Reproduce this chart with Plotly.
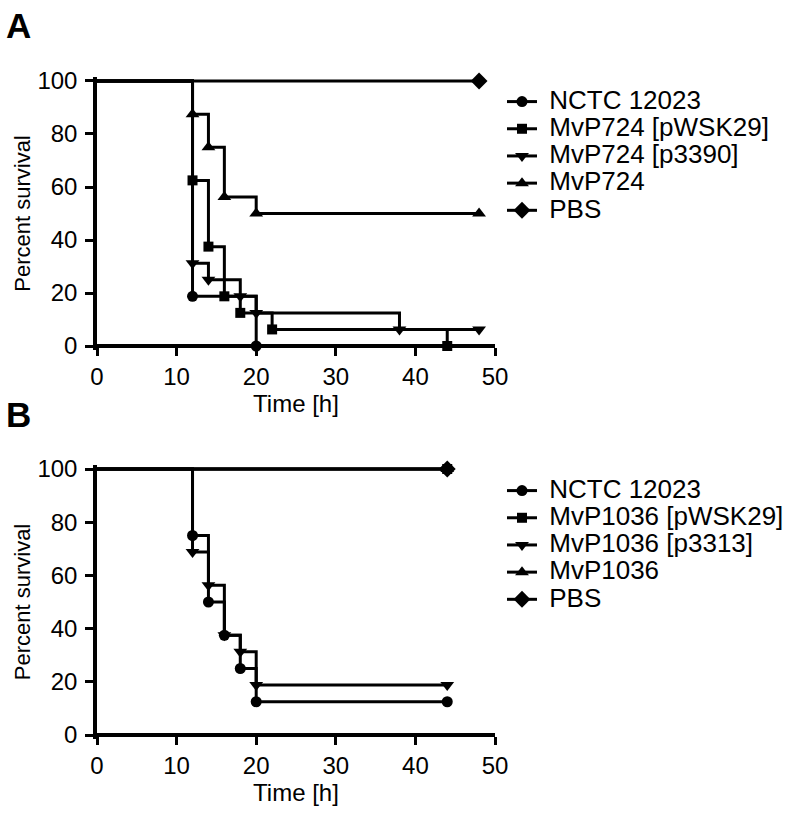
import plotly.graph_objects as go

# Panel A - survival data (time in h, percent survival)
names_a = ["NCTC 12023", "MvP724 [pWSK29]", "MvP724 [p3390]", "MvP724", "PBS"]
time_a = [
    [0, 12, 20],
    [0, 12, 14, 16, 18, 22, 44],
    [0, 12, 14, 18, 20, 38, 48],
    [0, 12, 14, 16, 20, 48],
    [0, 48],
]
surv_a = [
    [100, 18.75, 0],
    [100, 62.5, 37.5, 18.75, 12.5, 6.25, 0],
    [100, 31.25, 25, 18.75, 12.5, 6.25, 6.25],
    [100, 87.5, 75, 56.25, 50, 50],
    [100, 100],
]

# Panel B
names_b = ["NCTC 12023", "MvP1036 [pWSK29]", "MvP1036 [p3313]", "MvP1036", "PBS"]
time_b = [
    [0, 12, 14, 16, 18, 20, 44],
    [0, 44],
    [0, 12, 14, 16, 18, 20, 44],
    [0, 44],
    [0, 44],
]
surv_b = [
    [100, 75, 50, 37.5, 25, 12.5, 12.5],
    [100, 100],
    [100, 68.75, 56.25, 37.5, 31.25, 18.75, 18.75],
    [100, 100],
    [100, 100],
]

symbols = ["circle", "square", "triangle-down", "triangle-up", "diamond"]
sizes = [11, 10, 12, 12, 13]

x_ticks = [0, 10, 20, 30, 40, 50]
y_ticks = [0, 20, 40, 60, 80, 100]

FONT = "Arial, Liberation Sans, sans-serif"
W, H = 798, 813
PAD = 1.5  # a little extra y range so the lines at 100 are not cut in half

fig = go.Figure()


def add_panel(names, times, survs, xa, ya, legend):
    for i, name in enumerate(names):
        t, s = times[i], survs[i]
        # first segment from t=0 without a marker
        fig.add_trace(go.Scatter(
            x=t[:2], y=s[:2], mode="lines", line=dict(color="black", width=3, shape="hv"),
            xaxis=xa, yaxis=ya, showlegend=False, cliponaxis=False, hoverinfo="skip",
        ))
        fig.add_trace(go.Scatter(
            x=t[1:], y=s[1:], mode="lines+markers",
            line=dict(color="black", width=3, shape="hv"),
            marker=dict(symbol=symbols[i], size=sizes[i], color="black"),
            name='<span style="font-size:26px">\u00a0' + name + "</span>",
            xaxis=xa, yaxis=ya, legend=legend, cliponaxis=False,
        ))


add_panel(names_a, time_a, surv_a, "x", "y", "legend")
add_panel(names_b, time_b, surv_b, "x2", "y2", "legend2")


def ydomain(px0, px100):
    unit = (px0 - px100) / 100
    return [1 - (px0 + PAD * unit) / H, 1 - (px100 - PAD * unit) / H]


axis_style = dict(
    showline=True, linewidth=3.5, linecolor="black", ticks="outside", ticklen=8,
    tickwidth=3, tickcolor="black", showgrid=False, zeroline=False,
    tickfont=dict(family=FONT, size=24, color="black"), automargin=False,
)
xtitle = dict(text="Time [h]", font=dict(family=FONT, size=24, color="black"), standoff=1)
ytitle = dict(text="Percent survival", font=dict(family=FONT, size=22, color="black"), standoff=2)

xdom = [97 / W, 495 / W]
fig.update_layout(
    xaxis=dict(domain=xdom, range=[0, 50], tickvals=x_ticks, anchor="free", position=1 - 346 / H,
               title=xtitle, **axis_style),
    yaxis=dict(domain=ydomain(346, 81), range=[-PAD, 100 + PAD], tickvals=y_ticks, anchor="x",
               title=ytitle, ticklabelstandoff=3, **axis_style),
    xaxis2=dict(domain=xdom, range=[0, 50], tickvals=x_ticks, anchor="free", position=1 - 735 / H,
                title=xtitle, **axis_style),
    yaxis2=dict(domain=ydomain(735, 469), range=[-PAD, 100 + PAD], tickvals=y_ticks, anchor="x2",
                title=ytitle, ticklabelstandoff=3, **axis_style),
    legend=dict(x=502 / W, y=1 - 83 / H, xanchor="left", yanchor="top",
                font=dict(family=FONT, size=18.6, color="black"), bgcolor="rgba(0,0,0,0)"),
    legend2=dict(x=502 / W, y=1 - 472 / H, xanchor="left", yanchor="top",
                 font=dict(family=FONT, size=18.6, color="black"), bgcolor="rgba(0,0,0,0)"),
    annotations=[
        dict(text="<b>A</b>", x=4 / W, y=1 - 4 / H, xref="paper", yref="paper",
             xanchor="left", yanchor="top", showarrow=False,
             font=dict(family=FONT, size=35, color="black")),
        dict(text="<b>B</b>", x=4 / W, y=1 - 393 / H, xref="paper", yref="paper",
             xanchor="left", yanchor="top", showarrow=False,
             font=dict(family=FONT, size=35, color="black")),
    ],
    width=W, height=H, margin=dict(l=0, r=0, t=0, b=0),
    template="none", plot_bgcolor="white", paper_bgcolor="white",
    font=dict(family=FONT, color="black"),
)

fig.write_html("out.html", config={"displayModeBar": False},
               post_script="document.body.style.margin='0px';")
